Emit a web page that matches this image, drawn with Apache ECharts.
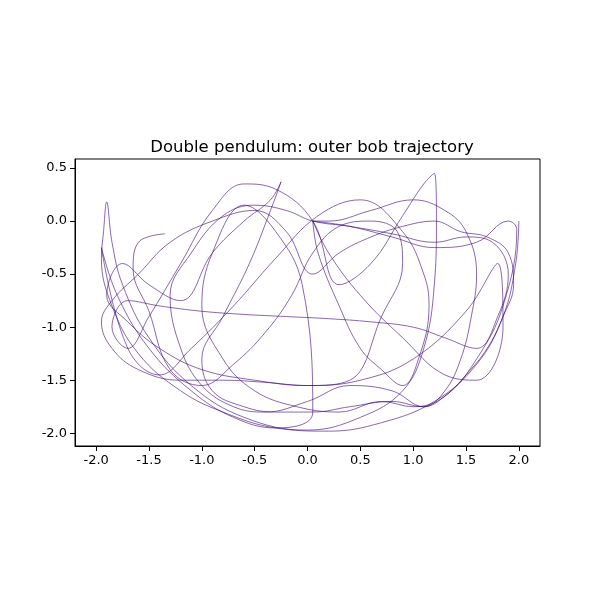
<!DOCTYPE html>
<html><head><meta charset="utf-8">
<script src="https://cdn.jsdelivr.net/npm/echarts@6/dist/echarts.min.js"></script>
<style>html,body{margin:0;padding:0;background:#fff}#c{width:600px;height:600px}</style>
</head><body><div id="c"></div>
<script>
const trajX = [2.0,1.97,1.85,1.6,1.2,0.7,0.2,-0.3,-0.8,-1.2,-1.6,-1.85,-1.95,-1.93,-1.9,-1.85,-1.75,-1.5,-1.1,-0.6,0.0,0.5,0.9,1.1,1.2,1.22,1.2,1.1,0.9,0.6,0.3,0.05,-0.3,-0.6,-0.9,-1.2,-1.5,-1.7,-1.85,-1.7,-1.4,-1.0,-0.6,-0.2,0.2,0.6,1.0,1.3,1.6,1.8,1.9,1.75,1.5,1.2,0.8,0.4,0.05,-0.2,-0.5,-0.8,-1.1,-1.3,-1.2,-1.0,-0.7,-0.4,0.0,0.4,0.8,1.1,1.3,1.45,1.55,1.6,1.5,1.3,1.0,0.6,0.2,0.05,0.1,0.3,0.5,0.7,0.9,1.05,1.15,1.1,0.9,0.5,0.1,-0.3,-0.7,-1.1,-1.4,-1.7,-1.95,-1.8,-1.5,-1.1,-0.7,-0.3,0.05,-0.05,-0.3,-0.6,-0.9,-1.0,-0.8,-0.5,-0.1,0.3,0.7,1.0,1.3,1.6,1.85,1.98,1.9,1.6,1.2,0.8,0.4,0.05,0.2,0.5,0.9,1.3,1.6,1.85,1.8,1.5,1.0,0.5,0.0,-0.5,-1.0,-1.4,-1.7,-1.9,-1.75,-1.5,-1.2,-0.9,-0.6,-0.35,-0.25,-0.35,-0.55,-0.8,-1.0,-0.9,-0.6,-0.3,0.05,0.4,0.8,1.1,1.3,1.5,1.7,1.85,1.95,1.9,1.7,1.45,1.2,0.9,0.6,0.3,0.05,-0.2,-0.5,-0.9,-1.3,-1.6,-1.85,-1.95,-1.85,-1.6,-1.2,-0.8,-0.4,0.0,0.4,0.7,0.9,0.85,0.6,0.3,0.05,-0.15,-0.4,-0.7,-1.0,-1.3,-1.5,-1.65,-1.6,-1.35];
const trajY = [0.0,-0.4,-0.9,-1.35,-1.7,-1.9,-1.98,-1.95,-1.8,-1.6,-1.25,-0.8,-0.35,-0.1,0.18,-0.2,-0.6,-1.1,-1.55,-1.85,-1.97,-1.85,-1.6,-1.2,-0.6,0.0,0.45,0.35,0.05,-0.4,-0.6,0.0,0.3,0.35,0.1,-0.4,-0.9,-1.2,-1.0,-0.75,-0.8,-0.85,-0.88,-0.9,-0.92,-0.95,-1.0,-1.1,-1.2,-0.9,-0.5,-0.2,-0.15,-0.2,-0.12,-0.05,0.0,0.1,0.15,0.05,-0.3,-0.7,-1.2,-1.55,-1.75,-1.8,-1.7,-1.55,-1.6,-1.75,-1.6,-1.3,-0.9,-0.5,-0.1,0.1,0.2,0.1,0.0,0.0,-0.3,-0.8,-1.2,-1.4,-1.55,-1.3,-0.8,-0.5,-0.1,0.2,0.05,-0.35,-0.8,-1.2,-1.45,-1.2,-0.25,-0.7,-1.2,-1.6,-1.85,-1.95,-1.8,-0.6,-0.1,0.15,-0.3,-0.8,-1.3,-1.6,-1.75,-1.8,-1.7,-1.75,-1.65,-1.3,-0.8,-0.08,0.0,-0.2,-0.25,-0.15,-0.05,0.0,-0.3,-0.7,-1.1,-1.45,-1.5,-1.0,-0.4,-0.85,-1.3,-1.5,-1.55,-1.5,-1.4,-1.2,-0.95,-0.7,-0.4,-0.6,-0.75,-0.3,0.0,0.2,0.37,0.1,-0.4,-0.9,-1.3,-1.6,-1.75,-1.8,-1.8,-1.75,-1.7,-1.75,-1.65,-1.45,-1.2,-0.9,-0.6,-0.3,-0.15,-0.1,0.0,-0.05,-0.15,-0.3,-0.5,-0.1,0.1,0.0,-0.2,-0.5,-0.75,-0.95,-1.2,-1.4,-1.5,-1.5,-1.52,-1.55,-1.5,-0.9,-0.4,-0.1,0.0,-0.05,-0.3,-0.7,-1.05,-1.35,-1.55,-1.4,-0.85,-0.45,-0.2,-0.12];
const xTicks = [-2.0,-1.5,-1.0,-0.5,0.0,0.5,1.0,1.5,2.0];
const yTicks = [-2.0,-1.5,-1.0,-0.5,0.0,0.5];
const data = trajX.map((x,i)=>[x,trajY[i]]);
const ax = {
  type:'value', axisLine:{show:true,onZero:false,lineStyle:{color:'#000'}},
  splitLine:{show:false},
  axisLabel:{color:'#000',fontSize:13,fontFamily:'DejaVu Sans',formatter:v=>v.toFixed(1)}
};
const chart = echarts.init(document.getElementById('c'));
chart.setOption({
  animation:false,
  title:{text:'Double pendulum: outer bob trajectory',left:307,top:134,textAlign:'center',
    textStyle:{fontSize:16.5,fontWeight:'normal',color:'#000',fontFamily:'DejaVu Sans'}},
  grid:{left:75,right:60,top:159,bottom:154,show:true,borderColor:'#000',borderWidth:1},
  xAxis:Object.assign({},ax,{min:-2.2,max:2.2,interval:0.5,
    axisLabel:Object.assign({},ax.axisLabel,{customValues:xTicks}),axisTick:{show:true,customValues:xTicks,lineStyle:{color:'#000'}}}),
  yAxis:Object.assign({},ax,{min:-2.12,max:0.585,
    axisLabel:Object.assign({},ax.axisLabel,{customValues:yTicks}),axisTick:{show:true,customValues:yTicks,lineStyle:{color:'#000'}}}),
  series:[{type:'line',data:data,smooth:0.4,showSymbol:false,lineStyle:{color:'#3a0078',width:0.6}}]
});
</script></body></html>
